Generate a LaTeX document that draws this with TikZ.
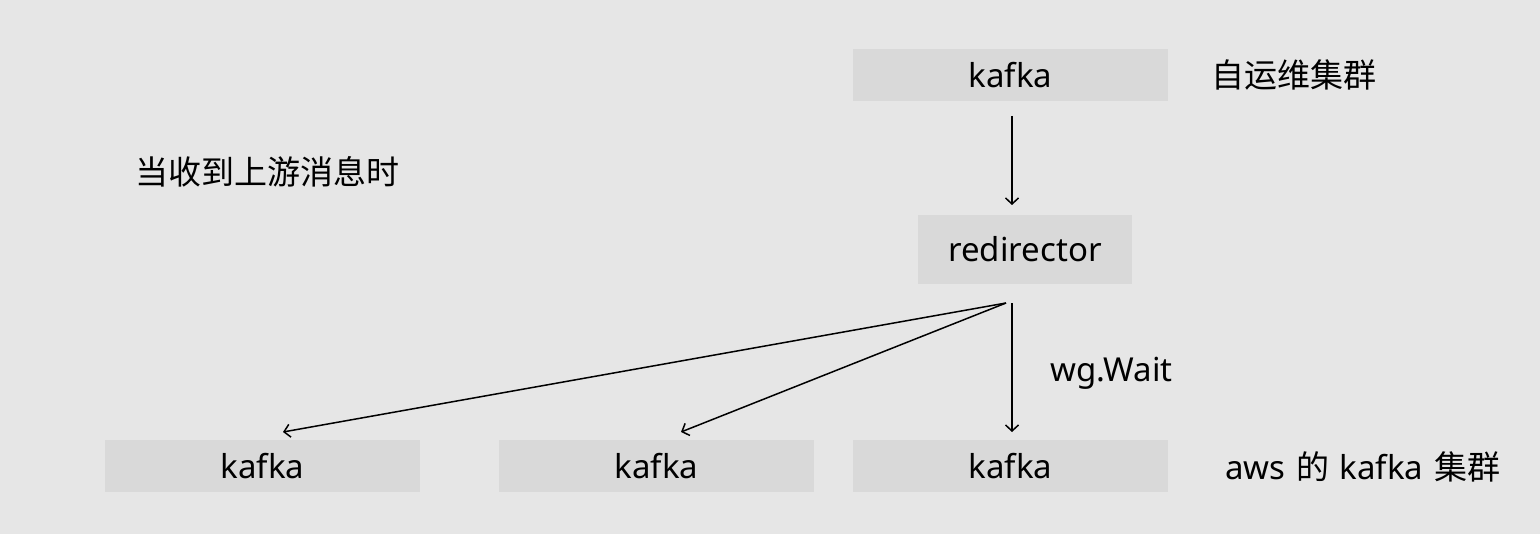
\documentclass[tikz,border=0pt]{standalone}
\usepackage{fontspec}
\setmainfont{Noto Sans}
\newfontfamily\cjk{Noto Sans CJK SC}
\usetikzlibrary{positioning, arrows.meta}

\definecolor{bg}{HTML}{E6E6E6}
\definecolor{boxfill}{HTML}{D9D9D9}

\tikzset{
    cluster/.style={fill=boxfill, minimum width=157.5pt, minimum height=26pt, inner sep=0pt, font=\fontsize{16.5}{20}\selectfont},
    label/.style={inner sep=0pt, font=\fontsize{16.5}{20}\selectfont},
    arr/.style={-{Straight Barb[length=3pt, width=6.5pt]}, line width=0.75pt}
}

\begin{document}
\begin{tikzpicture}[x=0.5pt, y=-0.5pt]
            \fill [bg] (0, 0) rectangle (1540, 534);
            \useasboundingbox (0, 0) rectangle (1540, 534);

            \node [cluster] (src) at (1010.5, 75) {kafka};
            \node [cluster, minimum width=107pt, minimum height=34.5pt] (redir) at (1025, 249.5) {redirector};
            \node [cluster] (dst1) at (262.5, 466) {kafka};
            \node [cluster] (dst2) at (656.5, 466) {kafka};
            \node [cluster] (dst3) at (1010.5, 466) {kafka};

            \node [label, anchor=west] (self) at (1211, 75) {\cjk 自运维集群};
            \node [label, anchor=west] (aws) at (1225, 467) {aws\hspace{1pt} {\cjk 的}\hspace{1pt} kafka\hspace{1pt} {\cjk 集群}};
            \node [label, anchor=west] (note) at (135, 172) {\cjk 当收到上游消息时};

            \coordinate (out) at (1012, 116);
            \coordinate (in) at (1012, 205);
            \coordinate (fork) at (1006, 303);
            \coordinate (down) at (1012, 303);
            \coordinate (to1) at (283, 432);
            \coordinate (to2) at (681, 432);
            \coordinate (to3) at (1012, 432);

            \draw [arr] (out) -- (in);
            \draw [arr] (fork) -- (to1);
            \draw [arr] (fork) -- (to2);
            \draw [arr] (down) -- (to3);
            \node [label, anchor=west] (wait) at (1050, 373) {wg.Wait};
        \end{tikzpicture}
\end{document}
